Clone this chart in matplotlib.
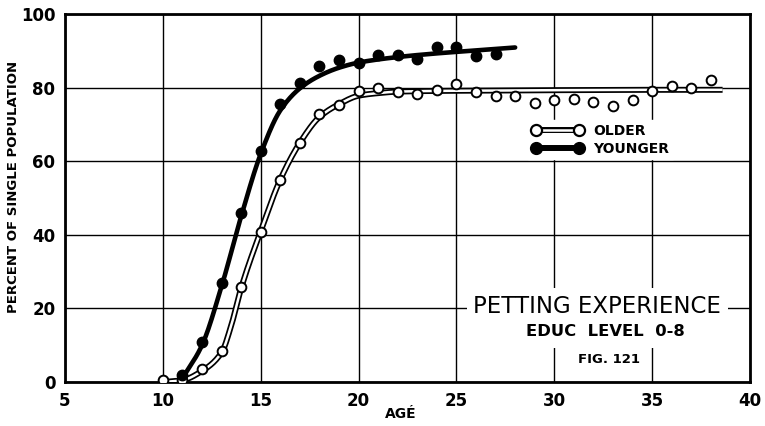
import matplotlib
matplotlib.use("Agg")
import matplotlib.pyplot as plt
import numpy as np
from matplotlib.lines import Line2D
from matplotlib.legend_handler import HandlerBase

# Observed points
ages_older = list(range(10, 39))
older = [0.5, 0.5, 3.5, 8.4, 25.8, 40.8, 55, 65, 72.8, 75.3, 79, 80, 78.8, 78.3,
         79.3, 81, 78.8, 77.7, 77.7, 75.8, 76.6, 77, 76, 75, 76.5, 79, 80.4, 79.9, 82]
ages_younger = list(range(11, 28))
younger = [1.9, 10.9, 26.8, 46, 62.8, 75.5, 81.3, 86, 87.5, 86.7, 88.9, 88.9, 87.8,
           91, 91, 88.6, 89]

# Hand drawn trend curves (knots)
older_curve_age = [10, 11, 12, 13, 13.5, 14, 15, 16, 17, 18, 19, 20, 21, 22, 24, 27, 30, 35, 38.6]
older_curve = [0, 0.5, 3, 8, 15.5, 25.5, 41, 55, 65, 72, 75.5, 77.8, 78.5, 78.9, 79.1, 79.2, 79.3, 79.4, 79.4]
younger_curve_age = [11, 12, 13, 14, 15, 16, 17, 18, 19, 20, 22, 24, 26, 28]
younger_curve = [1, 10, 26, 45, 62, 73.8, 79.8, 83.2, 85.4, 86.8, 88.3, 89.3, 90.1, 90.9]

x_ticks = [5, 10, 15, 20, 25, 30, 35, 40]
y_ticks = [0, 20, 40, 60, 80, 100]


def smooth(xk, yk, n=400):
    # monotone cubic hermite (Fritsch-Carlson), only to draw the curve smoothly
    xk = np.asarray(xk, float)
    yk = np.asarray(yk, float)
    h = np.diff(xk)
    d = np.diff(yk) / h
    m = np.zeros_like(yk)
    m[0], m[-1] = d[0], d[-1]
    for i in range(1, len(xk) - 1):
        if d[i - 1] * d[i] <= 0:
            m[i] = 0
        else:
            w1 = 2 * h[i] + h[i - 1]
            w2 = h[i] + 2 * h[i - 1]
            m[i] = (w1 + w2) / (w1 / d[i - 1] + w2 / d[i])
    xs = np.linspace(xk[0], xk[-1], n)
    idx = np.clip(np.searchsorted(xk, xs) - 1, 0, len(h) - 1)
    t = (xs - xk[idx]) / h[idx]
    h00 = 2 * t**3 - 3 * t**2 + 1
    h10 = t**3 - 2 * t**2 + t
    h01 = -2 * t**3 + 3 * t**2
    h11 = t**3 - t**2
    ys = h00 * yk[idx] + h10 * h[idx] * m[idx] + h01 * yk[idx + 1] + h11 * h[idx] * m[idx + 1]
    return xs, ys


class LineHandle:
    def __init__(self, filled):
        self.filled = filled


class LineHandler(HandlerBase):
    def create_artists(self, legend, orig_handle, xdescent, ydescent, width, height,
                       fontsize, trans):
        y = height / 2 - ydescent
        x0, x1 = -xdescent, -xdescent + width
        pad = 0.35 * fontsize
        arts = [Line2D([x0 + pad, x1 - pad], [y, y], color="black", lw=4.3)]
        if orig_handle.filled:
            arts.append(Line2D([x0 + pad, x1 - pad], [y, y], ls="none", marker="o",
                               ms=8.5, color="black"))
        else:
            arts.append(Line2D([x0 + pad, x1 - pad], [y, y], color="white", lw=1.8))
            arts.append(Line2D([x0 + pad, x1 - pad], [y, y], ls="none", marker="o",
                               ms=8, mfc="white", mec="black", mew=1.6))
        for a in arts:
            a.set_transform(trans)
        return arts


fig = plt.figure(figsize=(7.65, 4.26), dpi=100)
ax = fig.add_axes([65 / 765, 1 - 382 / 426, 685 / 765, 368 / 426])

ax.set_xlim(5, 40)
ax.set_ylim(0, 100)
ax.set_xticks(x_ticks)
ax.set_yticks(y_ticks)
ax.set_xticklabels([str(v) for v in x_ticks], fontsize=12, fontweight="bold")
ax.set_yticklabels([str(v) for v in y_ticks], fontsize=12, fontweight="bold")
ax.tick_params(length=0, pad=7)
ax.grid(True, color="black", linewidth=1.0)
ax.set_axisbelow(True)
for s in ax.spines.values():
    s.set_linewidth(2)

# older: double (open) line
ox, oy = smooth(older_curve_age, older_curve)
ax.plot(ox, oy, color="black", lw=4.3, solid_capstyle="butt", zorder=3)
ax.plot(ox, oy, color="white", lw=1.8, solid_capstyle="butt", zorder=4)
ax.plot(ages_older, older, "o", ms=7, mfc="white", mec="black", mew=1.4, zorder=6)

# younger: solid thick line
yx, yy = smooth(younger_curve_age, younger_curve)
ax.plot(yx, yy, color="black", lw=3.3, solid_capstyle="round", zorder=5)
ax.plot(ages_younger, younger, "o", ms=7.5, color="black", zorder=6)

# legend
h_old, h_young = LineHandle(False), LineHandle(True)
leg = ax.legend([h_old, h_young], ["OLDER", "YOUNGER"],
                handler_map={LineHandle: LineHandler()},
                loc="lower left", bbox_to_anchor=(0.676, 0.605), frameon=True,
                handlelength=3.8, handletextpad=0.65, labelspacing=0.3, borderpad=0.25,
                borderaxespad=0, prop={"weight": "bold", "size": 10})
leg.get_frame().set_edgecolor("white")
leg.get_frame().set_facecolor("white")
leg.get_frame().set_alpha(1)
leg.get_frame().set_boxstyle("square", pad=0)
leg.set_zorder(7)

# title block
ax.text(32.2, 20.5, "PETTING EXPERIENCE", ha="center", va="center", fontsize=16.5,
        zorder=8, bbox=dict(boxstyle="square,pad=0.3", fc="white", ec="none"))
ax.text(32.6, 13.6, "EDUC  LEVEL  0-8", ha="center", va="center", fontsize=11.8,
        fontweight="bold", zorder=8,
        bbox=dict(boxstyle="square,pad=0.5", fc="white", ec="none"))
ax.text(32.8, 6.0, "FIG. 121", ha="center", va="center", fontsize=9.5,
        fontweight="bold", zorder=8,
        bbox=dict(boxstyle="square,pad=0.3", fc="white", ec="none"))

ax.set_xlabel("AGÉ", fontsize=10, fontweight="bold", labelpad=-2, x=0.49)
ax.set_ylabel("PERCENT OF SINGLE POPULATION", fontsize=9.5, fontweight="bold")
ax.yaxis.set_label_coords(-0.066, 0.53)

fig.savefig("out.png", dpi=100)
